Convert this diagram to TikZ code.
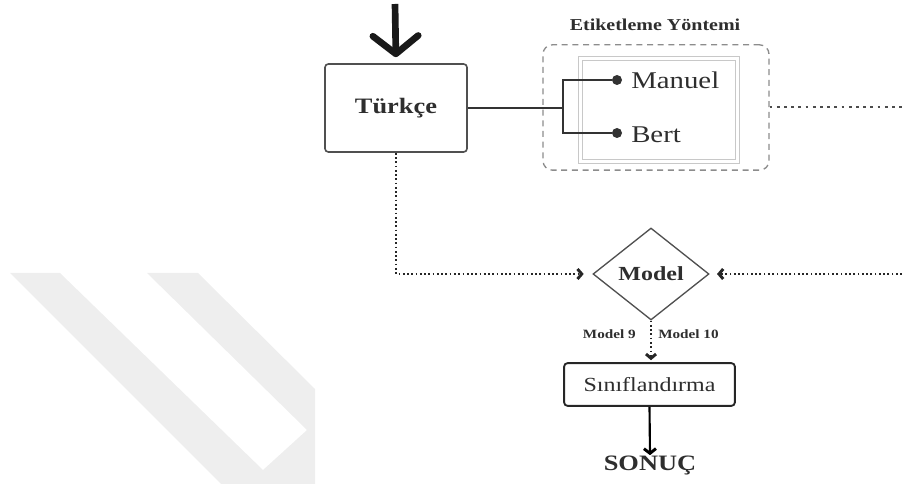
\documentclass[tikz,border=0pt]{standalone}
\usepackage{fontspec}
\setmainfont{Liberation Serif}[FakeStretch=1.2]
\usetikzlibrary{shapes.geometric,shapes.misc,arrows.meta}

\definecolor{ink}{HTML}{2E2E2E}
\definecolor{frame}{HTML}{505050}
\definecolor{dashgray}{HTML}{8C8C8C}
\definecolor{softgray}{HTML}{C8C8C8}
\definecolor{wmgray}{HTML}{EEEEEE}

\tikzset{
  mainbox/.style={draw=frame, line width=1.2pt, rounded corners=2.5pt,
    minimum width=106.5pt, minimum height=66pt, inner sep=0pt,
    font=\bfseries\fontsize{16.5pt}{18pt}\selectfont, text=ink},
  groupbox/.style={draw=dashgray, line width=1pt, dash pattern=on 4.5pt off 3.5pt,
    rounded corners=7pt, minimum width=169.5pt, minimum height=94pt, inner sep=0pt},
  innerbox/.style={chamfered rectangle, chamfered rectangle xsep=6pt,
    chamfered rectangle ysep=6pt, draw=softgray, line width=0.8pt,
    double=white, double distance=2.2pt,
    minimum width=118pt, minimum height=77pt, inner sep=0pt},
  decision/.style={diamond, draw=frame, line width=1pt, aspect=1.26,
    minimum width=87pt, minimum height=69pt, inner sep=0pt,
    font=\bfseries\fontsize{15pt}{16pt}\selectfont, text=ink},
  stagebox/.style={draw=black!85, line width=1.4pt, rounded corners=2.5pt,
    minimum width=128pt, minimum height=32pt, inner sep=0pt,
    font=\fontsize{15pt}{16pt}\selectfont, text=ink},
  choice/.style={inner sep=0pt, font=\fontsize{18pt}{20pt}\selectfont, text=ink},
  smalllbl/.style={inner sep=0pt, font=\bfseries\fontsize{9.5pt}{11pt}\selectfont, text=ink},
  endpoint/.style={circle, fill=black!80, minimum size=7.5pt, inner sep=0pt},
  branch/.style={draw=black!80, line width=1.5pt},
  dotl/.style={draw=black!85, line width=1.6pt, dash pattern=on 1.3pt off 1.9pt},
  sparse/.style={draw=black!70, line width=1.5pt, dash pattern=on 2pt off 3.4pt},
  tipd/.style={-{Straight Barb[length=3.2pt, width=7.5pt, line width=2.2pt]}},
}

\begin{document}
\begin{tikzpicture}[x=0.75pt, y=-0.75pt]
  \useasboundingbox (0,0) rectangle (902,484);

  % light watermark band in the lower left
  \fill[wmgray] (10,273) -- (60,273) -- (263,470) -- (307,430) -- (147,273)
    -- (198,273) -- (315,389) -- (315,484) -- (221,484) -- cycle;

  % boxes
  \node[mainbox] (tr) at (396,108) {Türkçe};
  \node[groupbox] (grp) at (656,107.5) {};
  \node[innerbox] (opts) at (659,110) {};
  \node[anchor=base, inner sep=0pt, text=ink,
        font=\bfseries\fontsize{12.5pt}{14pt}\selectfont] (etk) at (655,31) {Etiketleme Yöntemi};

  \node[endpoint] (dm) at (617,80) {};
  \node[endpoint] (db) at (617,133) {};
  \node[choice, anchor=base west] (man) at (631,89) {Manuel};
  \node[choice, anchor=base west] (brt) at (631,143) {Bert};

  \node[decision] (mdl) at (651,274) {Model};
  \node[stagebox] (sin) at (649.5,384.5) {Sınıflandırma};
  \node[inner sep=0pt, text=ink, font=\bfseries\fontsize{16.5pt}{18pt}\selectfont]
    (res) at (650,465) {SONUÇ};

  \node[smalllbl, anchor=base east] (m9) at (636,338) {Model 9};
  \node[smalllbl, anchor=base west] (m10) at (658,338) {Model 10};

  % free ends
  \coordinate (src) at (395,4);
  \coordinate (jn) at (563,108);
  \coordinate (out1) at (902,107.5);
  \coordinate (in2) at (902,274);

  % input arrow
  \draw[line width=5pt, black!90, shorten >=4.5pt,
        -{Straight Barb[length=13.5pt, width=34pt, round]}] (src) -- (tr.north);

  % labelling branch
  \draw[branch] (tr.east) -- (jn);
  \draw[branch] (jn) |- (dm);
  \draw[branch] (jn) |- (db);
  \draw[sparse] (grp.east) -- (out1);

  % into the model
  \draw[dotl, tipd, shorten >=6.5pt] (tr.south) |- (mdl.west);
  \draw[dotl, tipd, shorten >=5.5pt] (in2) -- (mdl.east);
  \draw[dotl, tipd, shorten >=1.5pt] (mdl.south) -- (mdl.south |- sin.north);

  % result
  \draw[line width=1.6pt, black, -{Straight Barb[length=3.5pt, width=9pt, line width=2.2pt]}]
    (sin.south) -- (res.north);
\end{tikzpicture}
\end{document}
